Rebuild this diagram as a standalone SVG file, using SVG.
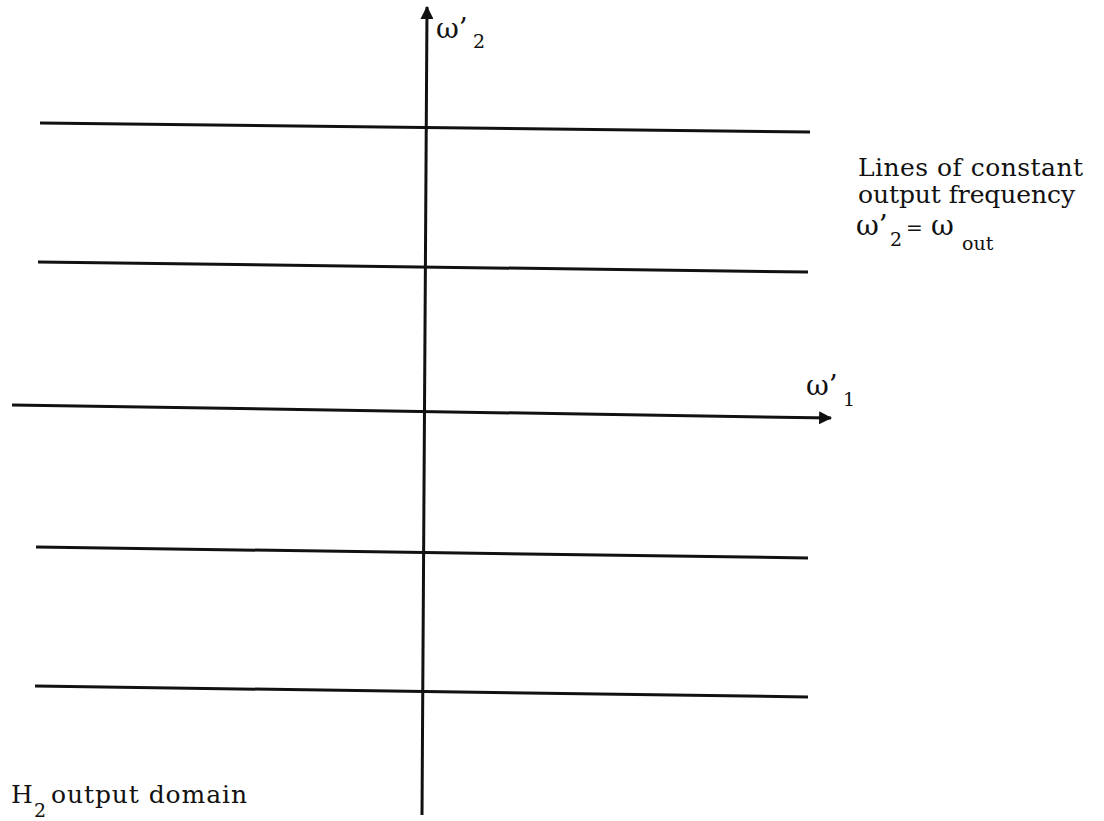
<svg xmlns="http://www.w3.org/2000/svg" width="1104" height="821" viewBox="0 0 1104 821">
<style>
.l{stroke:#111;stroke-width:3;fill:none}
.t{font-family:"DejaVu Serif","Liberation Serif",serif;font-size:25px;fill:#111}
.w{font-family:"DejaVu Serif","Liberation Serif",serif;font-size:28px;fill:#111}
.s{font-family:"DejaVu Serif","Liberation Serif",serif;font-size:19px;fill:#111}
</style>
<defs>
<marker id="ah" viewBox="0 0 12 12" refX="11" refY="6" markerWidth="13" markerHeight="13" orient="auto" markerUnits="userSpaceOnUse">
<path d="M0,0 L12,6 L0,12 Z" fill="#111"/>
</marker>
</defs>
<rect width="1104" height="821" fill="#fff"/>
<g id="connectors">
<line class="l" x1="40" y1="123" x2="810" y2="132"/>
<line class="l" x1="38" y1="262" x2="808" y2="272"/>
<line class="l" x1="12" y1="405" x2="831" y2="418" marker-end="url(#ah)"/>
<line class="l" x1="36" y1="547" x2="808" y2="558"/>
<line class="l" x1="35" y1="686" x2="808" y2="697"/>
<line class="l" x1="422" y1="815" x2="427" y2="7" marker-end="url(#ah)"/>
</g>
<g id="label-w2">
<text class="w" x="436" y="38">ω’</text>
<text class="s" x="473" y="48">2</text>
</g>
<g id="label-lines">
<text class="t" x="858" y="176" textLength="225" lengthAdjust="spacing">Lines of constant</text>
<text class="t" x="858" y="203" textLength="217" lengthAdjust="spacing">output frequency</text>
<text class="w" x="856" y="235">ω’</text>
<text class="s" x="890" y="246">2</text>
<text class="t" x="906" y="235" style="font-size:20px">=</text>
<text class="w" x="931" y="235">ω</text>
<text class="s" x="962" y="250">out</text>
</g>
<g id="label-w1">
<text class="w" x="806" y="395">ω’</text>
<text class="s" x="843" y="406">1</text>
</g>
<g id="label-domain">
<text class="t" x="11" y="803">H</text>
<text class="s" x="34" y="817">2</text>
<text class="t" x="51" y="803" textLength="196" lengthAdjust="spacing">output domain</text>
</g>
</svg>
